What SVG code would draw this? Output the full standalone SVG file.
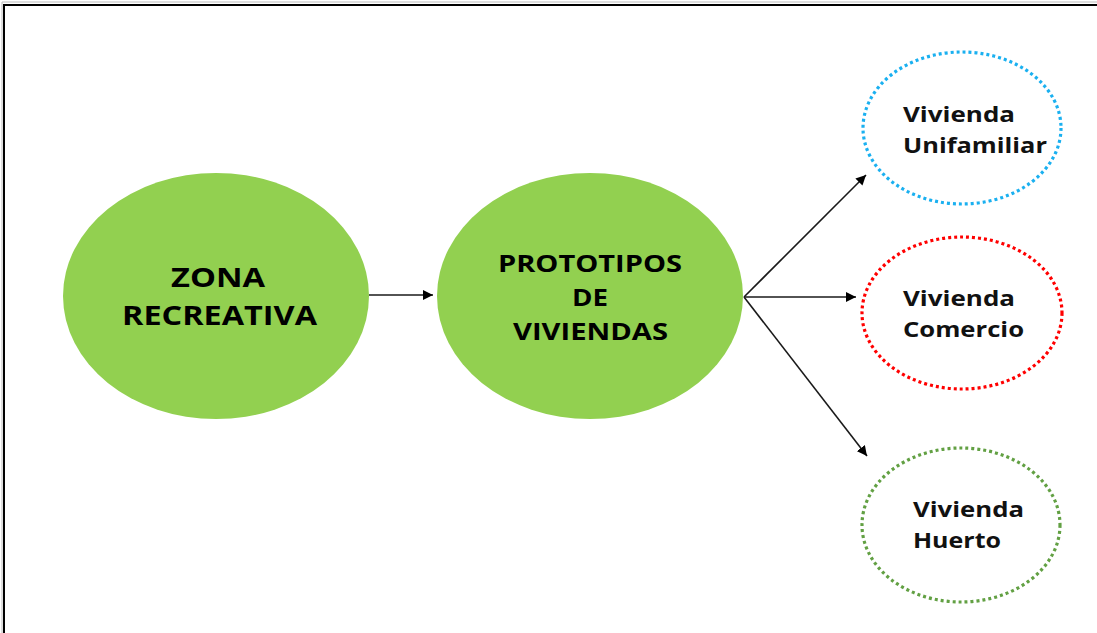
<svg xmlns="http://www.w3.org/2000/svg" width="1097" height="633" viewBox="0 0 1097 633">
<defs>
<style>
.main{fill:#92D050;stroke:none}
.big{font-family:"Open Sans","Liberation Sans",sans-serif;font-weight:bold;font-size:27px;fill:#000}
.mid{font-family:"Open Sans","Liberation Sans",sans-serif;font-weight:bold;font-size:24px;fill:#000}
.small{font-family:"Open Sans","Liberation Sans",sans-serif;font-weight:bold;font-size:21px;fill:#111}
.dot{fill:#fff;stroke-width:3.2;stroke-dasharray:3 3}
.conn{stroke:#1a1a1a;stroke-width:1.6;fill:none;marker-end:url(#ah)}
</style>
<marker id="ah" viewBox="0 0 10 10" refX="10" refY="5" markerWidth="10" markerHeight="10" markerUnits="userSpaceOnUse" orient="auto">
<path d="M0,0 L10,5 L0,10 z" fill="#000"/>
</marker>
</defs>
<rect width="1097" height="633" fill="#fff"/>
<path d="M2,633 V2 H1097" stroke="#bbb" stroke-width="1" fill="none"/>
<path d="M4,633 V5 H1097" stroke="#000" stroke-width="2" fill="none"/>
<g id="connectors">
<line class="conn" x1="369" y1="295" x2="433" y2="295"/>
<line class="conn" x1="744" y1="297" x2="866" y2="175"/>
<line class="conn" x1="744" y1="297" x2="856" y2="297"/>
<line class="conn" x1="744" y1="297" x2="867" y2="456"/>
</g>
<g id="zona">
<ellipse class="main" cx="216" cy="296" rx="153" ry="123"/>
<text class="big" x="218" y="287" text-anchor="middle" textLength="94" lengthAdjust="spacingAndGlyphs">ZONA</text>
<text class="big" x="219.5" y="325" text-anchor="middle" textLength="195" lengthAdjust="spacingAndGlyphs">RECREATIVA</text>
</g>
<g id="prototipos">
<ellipse class="main" cx="590" cy="296" rx="153" ry="123"/>
<text class="mid" x="590" y="272" text-anchor="middle" textLength="184" lengthAdjust="spacingAndGlyphs">PROTOTIPOS</text>
<text class="mid" x="590" y="306" text-anchor="middle" textLength="36" lengthAdjust="spacingAndGlyphs">DE</text>
<text class="mid" x="590.5" y="340" text-anchor="middle" textLength="155" lengthAdjust="spacingAndGlyphs">VIVIENDAS</text>
</g>
<g id="unifamiliar">
<ellipse class="dot" cx="962" cy="128" rx="99" ry="76" stroke="#1AB0F0"/>
<text class="small" x="903" y="122" textLength="112" lengthAdjust="spacingAndGlyphs">Vivienda</text>
<text class="small" x="903" y="153" textLength="144" lengthAdjust="spacingAndGlyphs">Unifamiliar</text>
</g>
<g id="comercio">
<ellipse class="dot" cx="962" cy="313" rx="100" ry="76" stroke="#FF0000"/>
<text class="small" x="903" y="306" textLength="112" lengthAdjust="spacingAndGlyphs">Vivienda</text>
<text class="small" x="903" y="337" textLength="121" lengthAdjust="spacingAndGlyphs">Comercio</text>
</g>
<g id="huerto">
<ellipse class="dot" cx="961" cy="525" rx="99" ry="77" stroke="#62A043"/>
<text class="small" x="913" y="517" textLength="111" lengthAdjust="spacingAndGlyphs">Vivienda</text>
<text class="small" x="913" y="548" textLength="88" lengthAdjust="spacingAndGlyphs">Huerto</text>
</g>
</svg>
